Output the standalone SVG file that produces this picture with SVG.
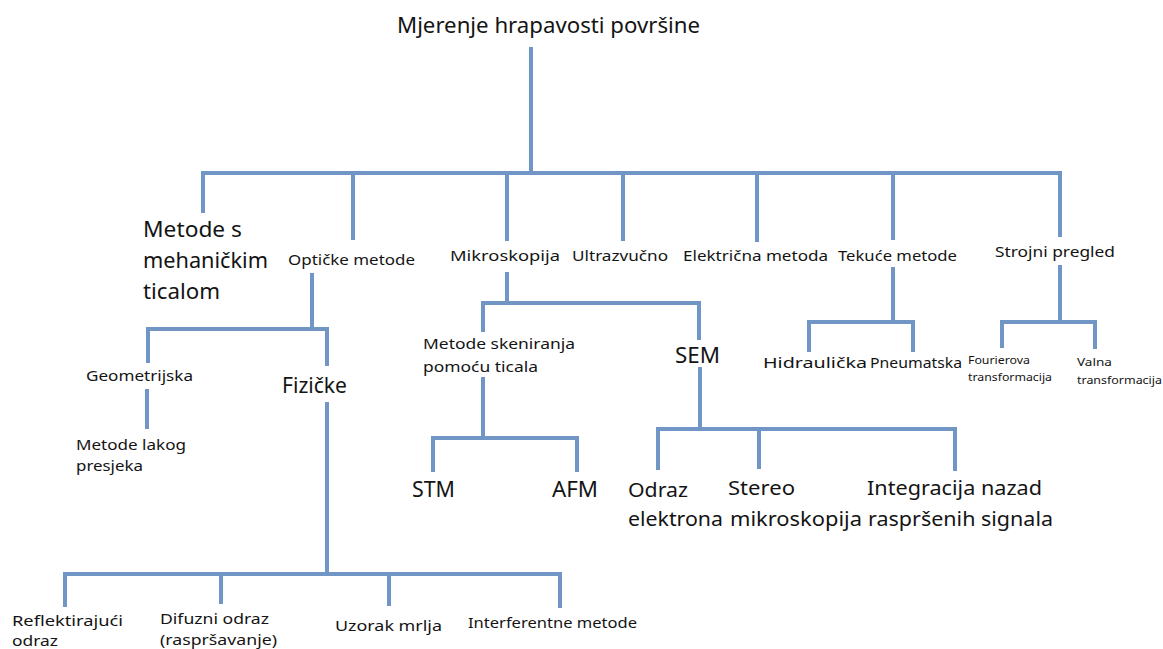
<svg xmlns="http://www.w3.org/2000/svg" width="1163" height="649" viewBox="0 0 1163 649">
<style>
.c{fill:none;stroke:#7195c5;stroke-width:4;stroke-linejoin:miter;stroke-linecap:butt}
text{font-family:"Noto Sans","Open Sans","DejaVu Sans",sans-serif;fill:#141414}
.xl{font-size:21px}
.l{font-size:20px}
.m{font-size:15px}
.s{font-size:11.5px}
</style>
<rect width="1163" height="649" fill="#ffffff"/>
<g id="connectors">
<path class="c" d="M531 47V173"/>
<path class="c" d="M203 213V173H1060V237"/>
<path class="c" d="M353 173V240M507 173V241M623 173V241M757 173V242M893 173V240"/>
<path class="c" d="M312 273V329"/>
<path class="c" d="M148 363V329H327V366"/>
<path class="c" d="M147 389V429"/>
<path class="c" d="M327 402V574"/>
<path class="c" d="M65 607V574H560V608"/>
<path class="c" d="M221 574V604M389 574V606"/>
<path class="c" d="M507 272V303"/>
<path class="c" d="M483 332V303H699V340"/>
<path class="c" d="M483 377V438"/>
<path class="c" d="M433 472V438H577V472"/>
<path class="c" d="M700 367V429"/>
<path class="c" d="M658 470V429H955V471"/>
<path class="c" d="M759 429V469"/>
<path class="c" d="M893 267V322"/>
<path class="c" d="M809 352V322H913V352"/>
<path class="c" d="M1060 265V322"/>
<path class="c" d="M1002 348V322H1095V349"/>
</g>
<g id="n-root"><text class="xl" x="397" y="33" textLength="303" lengthAdjust="spacingAndGlyphs">Mjerenje hrapavosti površine</text></g>
<g id="n-mehanicki">
<text class="xl" x="143" y="237" textLength="99" lengthAdjust="spacingAndGlyphs">Metode s</text>
<text class="xl" x="143" y="268" textLength="125" lengthAdjust="spacingAndGlyphs">mehaničkim</text>
<text class="xl" x="143" y="299" textLength="77" lengthAdjust="spacingAndGlyphs">ticalom</text>
</g>
<g id="n-opticke"><text class="m" x="288" y="265" textLength="127" lengthAdjust="spacingAndGlyphs">Optičke metode</text></g>
<g id="n-mikroskopija"><text class="m" x="450" y="261" textLength="110" lengthAdjust="spacingAndGlyphs">Mikroskopija</text></g>
<g id="n-ultrazvucno"><text class="m" x="572" y="261" textLength="96" lengthAdjust="spacingAndGlyphs">Ultrazvučno</text></g>
<g id="n-elektricna"><text class="m" x="683" y="261" textLength="145" lengthAdjust="spacingAndGlyphs">Električna metoda</text></g>
<g id="n-tekuce"><text class="m" x="838" y="261" textLength="119" lengthAdjust="spacingAndGlyphs">Tekuće metode</text></g>
<g id="n-strojni"><text class="m" x="995" y="257" textLength="120" lengthAdjust="spacingAndGlyphs">Strojni pregled</text></g>
<g id="n-geometrijska"><text class="m" x="86" y="381" textLength="107" lengthAdjust="spacingAndGlyphs">Geometrijska</text></g>
<g id="n-lakog">
<text class="m" x="76" y="450" textLength="110" lengthAdjust="spacingAndGlyphs">Metode lakog</text>
<text class="m" x="76" y="471" textLength="67" lengthAdjust="spacingAndGlyphs">presjeka</text>
</g>
<g id="n-fizicke"><text class="xl" x="282" y="393" textLength="65" lengthAdjust="spacingAndGlyphs">Fizičke</text></g>
<g id="n-skeniranja">
<text class="m" x="423" y="349" textLength="152" lengthAdjust="spacingAndGlyphs">Metode skeniranja</text>
<text class="m" x="423" y="372" textLength="115" lengthAdjust="spacingAndGlyphs">pomoću ticala</text>
</g>
<g id="n-sem"><text class="xl" x="675" y="363" textLength="45" lengthAdjust="spacingAndGlyphs">SEM</text></g>
<g id="n-stm"><text class="xl" x="412" y="497" textLength="43" lengthAdjust="spacingAndGlyphs">STM</text></g>
<g id="n-afm"><text class="xl" x="552" y="497" textLength="46" lengthAdjust="spacingAndGlyphs">AFM</text></g>
<g id="n-odraz">
<text class="l" x="628" y="497" textLength="60" lengthAdjust="spacingAndGlyphs">Odraz</text>
<text class="l" x="628" y="526" textLength="95" lengthAdjust="spacingAndGlyphs">elektrona</text>
</g>
<g id="n-stereo">
<text class="l" x="728" y="495" textLength="67" lengthAdjust="spacingAndGlyphs">Stereo</text>
<text class="l" x="730" y="526" textLength="132" lengthAdjust="spacingAndGlyphs">mikroskopija</text>
</g>
<g id="n-integracija">
<text class="l" x="867" y="495" textLength="175" lengthAdjust="spacingAndGlyphs">Integracija nazad</text>
<text class="l" x="868" y="526" textLength="185" lengthAdjust="spacingAndGlyphs">raspršenih signala</text>
</g>
<g id="n-hidraulicka"><text class="m" x="763" y="368" textLength="104" lengthAdjust="spacingAndGlyphs">Hidraulička</text></g>
<g id="n-pneumatska"><text class="m" x="870" y="368" textLength="92" lengthAdjust="spacingAndGlyphs">Pneumatska</text></g>
<g id="n-fourier">
<text class="s" x="968" y="364" textLength="62" lengthAdjust="spacingAndGlyphs">Fourierova</text>
<text class="s" x="968" y="381" textLength="84" lengthAdjust="spacingAndGlyphs">transformacija</text>
</g>
<g id="n-valna">
<text class="s" x="1077" y="366" textLength="35" lengthAdjust="spacingAndGlyphs">Valna</text>
<text class="s" x="1077" y="384" textLength="85" lengthAdjust="spacingAndGlyphs">transformacija</text>
</g>
<g id="n-reflektirajuci">
<text class="m" x="12" y="626" textLength="111" lengthAdjust="spacingAndGlyphs">Reflektirajući</text>
<text class="m" x="12" y="646" textLength="46" lengthAdjust="spacingAndGlyphs">odraz</text>
</g>
<g id="n-difuzni">
<text class="m" x="160" y="624" textLength="109" lengthAdjust="spacingAndGlyphs">Difuzni odraz</text>
<text class="m" x="160" y="645" textLength="117" lengthAdjust="spacingAndGlyphs">(raspršavanje)</text>
</g>
<g id="n-uzorak"><text class="m" x="335" y="631" textLength="107" lengthAdjust="spacingAndGlyphs">Uzorak mrlja</text></g>
<g id="n-interferentne"><text class="m" x="468" y="628" textLength="169" lengthAdjust="spacingAndGlyphs">Interferentne metode</text></g>
</svg>
